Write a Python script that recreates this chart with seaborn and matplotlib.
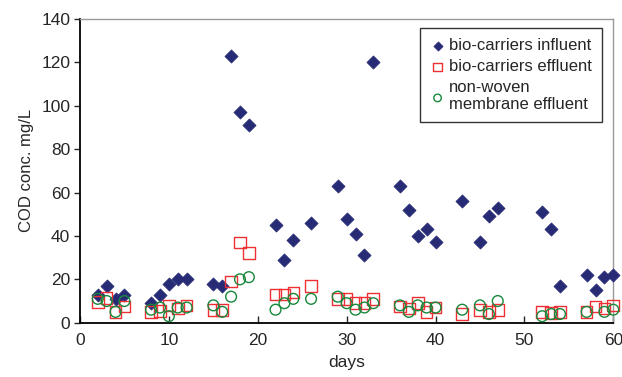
import matplotlib
matplotlib.use('Agg')
import matplotlib.pyplot as plt
import seaborn as sns
import pandas as pd

# bio-carriers influent
inf_days = [2, 3, 4, 5, 8, 9, 10, 11, 12, 15, 16, 17, 18, 19, 22, 23, 24, 26,
            29, 30, 31, 32, 33, 36, 37, 38, 39, 40, 43, 45, 46, 47, 52, 53, 54,
            57, 58, 59, 60]
inf_cod = [13, 17, 11, 13, 9, 13, 18, 20, 20, 18, 17, 123, 97, 91, 45, 29, 38, 46,
           63, 48, 41, 31, 120, 63, 52, 40, 43, 37, 56, 37, 49, 53, 51, 43, 17,
           22, 15, 21, 22]

# bio-carriers effluent
eff_days = [2, 3, 4, 5, 8, 9, 10, 11, 12, 15, 16, 17, 18, 19, 22, 23, 24, 26,
            29, 30, 31, 32, 33, 36, 37, 38, 39, 40, 43, 45, 46, 47, 52, 53, 54,
            57, 58, 59, 60]
eff_cod = [9.5, 11.5, 5, 7.5, 5, 5.5, 8, 6.5, 8, 6, 6, 19, 37, 32, 13, 13, 14, 17,
           11, 11, 9, 9, 11, 7.5, 6.5, 9, 5, 7, 4, 6, 5, 6, 5, 4.5, 5,
           5, 7.5, 6.5, 8]

# non-woven membrane effluent
nw_days = [2, 3, 4, 5, 8, 9, 10, 11, 12, 15, 16, 17, 18, 19, 22, 23, 24, 26,
           29, 30, 31, 32, 33, 36, 37, 38, 39, 40, 43, 45, 46, 47, 52, 53, 54,
           57, 59, 60]
nw_cod = [11, 10, 5, 10, 6, 7, 3, 7, 7, 8, 5, 12, 20, 21, 6, 9, 11, 11,
          12, 9, 6, 7, 9, 8, 5, 8, 7, 7, 6, 8, 4, 10, 3, 4, 4,
          5, 5, 6]

labels = ['bio-carriers influent', 'bio-carriers effluent', 'non-woven\nmembrane effluent']

sns.set_style('white')
plt.rcParams['font.family'] = ['Liberation Sans', 'DejaVu Sans']

fig = plt.figure(figsize=(6.22, 3.77), dpi=100)
ax = fig.add_axes([0.1286, 0.144, 0.8574, 0.8056])

sns.scatterplot(x=inf_days, y=inf_cod, ax=ax, marker='D', s=45, clip_on=False, zorder=3,
                color='#272b75', edgecolor='#272b75', linewidth=0.5, label=labels[0])
sns.scatterplot(x=eff_days, y=eff_cod, ax=ax, marker='s', s=70, clip_on=False, zorder=3,
                facecolor='none', edgecolor='#ee3035', linewidth=1.0, label=labels[1])
sns.scatterplot(x=nw_days, y=nw_cod, ax=ax, marker='o', s=60, clip_on=False, zorder=3,
                facecolor='none', edgecolor='#17883b', linewidth=1.0, label=labels[2])

ax.set_xlim(0, 60)
ax.set_ylim(0, 140)
ax.set_xticks(range(0, 61, 10))
ax.set_yticks(range(0, 141, 20))
ax.set_xlabel('days', fontsize=12.5, labelpad=5)
ax.set_ylabel('COD conc. mg/L', fontsize=12, labelpad=5)
ax.tick_params(axis='y', direction='out', length=4, width=1, labelsize=12.5, left=True, pad=3)
ax.tick_params(axis='x', direction='in', length=5, width=1, labelsize=12.5, bottom=True, pad=7.5)

for side in ['left', 'bottom']:
    ax.spines[side].set_color('black')
    ax.spines[side].set_linewidth(1.3)
for side in ['top', 'right']:
    ax.spines[side].set_color('#999999')
    ax.spines[side].set_linewidth(1.0)

leg = ax.legend(loc='upper right', bbox_to_anchor=(0.979, 0.969), fontsize=12,
                frameon=True, fancybox=False, edgecolor='black', markerscale=0.7,
                handletextpad=0.25, borderpad=0.6, labelspacing=0.35, handlelength=0.9,
                borderaxespad=0)
leg.get_frame().set_linewidth(1.0)

fig.savefig('out.png', dpi=100)
